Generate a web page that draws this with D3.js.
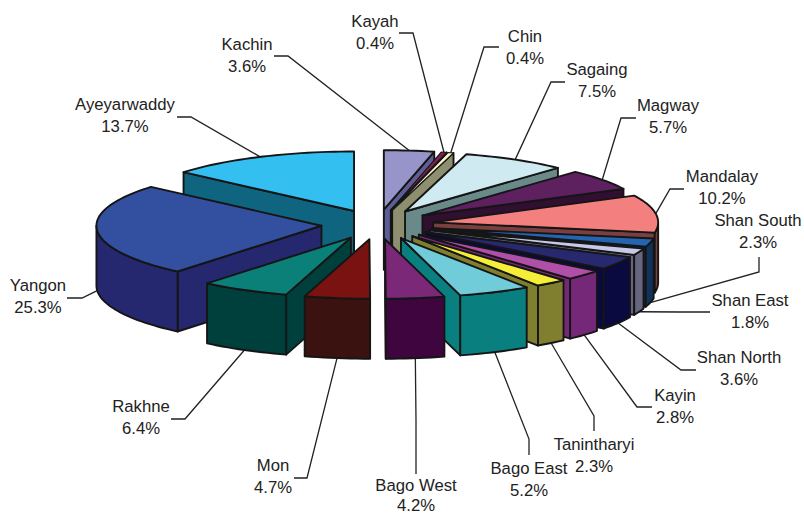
<!DOCTYPE html>
<html>
<head>
<meta charset="utf-8">
<script src="https://cdn.jsdelivr.net/npm/d3@7/dist/d3.min.js"></script>
<style>
html,body{margin:0;padding:0;background:#fff}
svg{display:block}
text{font-family:"Liberation Sans",Arial,sans-serif;font-size:16.7px;fill:#222;text-anchor:middle}
</style>
</head>
<body>
<svg id="chart" width="804" height="515"></svg>
<script>
// data
const regions = ["Kachin","Kayah","Chin","Sagaing","Magway","Mandalay","Shan South","Shan East","Shan North","Kayin","Tanintharyi","Bago East","Bago West","Mon","Rakhne","Yangon","Ayeyarwaddy"];
const shares = [3.6,0.4,0.4,7.5,5.7,10.2,2.3,1.8,3.6,2.8,2.3,5.2,4.2,4.7,6.4,25.3,13.7];

// styles
const topColors = ["#9694c8","#7f2052","#fbf8c8","#cfeaf0","#5f2060","#f47f7f","#2464b0","#c8c8e8","#28286f","#b04fa8","#f5ee38","#70ccd8","#7b2878","#7a1212","#0a8078","#3350a0","#33c0f0"];
const wallColors = ["#5e5e96","#40102a","#8e8e70","#6a8a8a","#300f30","#7a4040","#123259","#666680","#0a0a40","#762878","#807f30","#0a7f7f","#3f053f","#3a1210","#00403c","#26286f","#0f6480"];

// layout of labels: centre x, first baseline, elbow x/y, stub x/y
const labelLayout = [
 [247,50,288,56,274,56],[375,27,413,33,399,33],[525,42,484,47,499,47],[597,75,551,82,565,82],
 [668,111,621,118,636,118],[722,182,670,189,684,189],[758,226,759,272,759,257],[750,306,680,312,710,312],
 [739,363,681,370,696,370],[675,401,637,407,652,407],[594,450,594,416,594,431],[529,474,529,439,529,455],
 [416,491,416,420,416,474],[273,471,307,478,294,478],[141,412,185,419,171,419],[38,291,82,298,67,298],[125,110,191,117,177,117]
];

const cx = 377.5, cy = 224.5, rx = 225, ry = 59.5, explode = 0.25, depth = 60;
const svg = d3.select("#chart");
const pie = d3.pie().sort(null).value(d => d).startAngle(0).endAngle(2 * Math.PI);
const arcs = pie(shares).map((a, i) => {
  const mid = (a.startAngle + a.endAngle) / 2;
  return {i, a0: a.startAngle, a1: a.endAngle, mid,
    ax: cx + explode * rx * Math.sin(mid), ay: cy - explode * ry * Math.cos(mid)};
});
const pt = (s, t) => [s.ax + rx * Math.sin(t), s.ay - ry * Math.cos(t)];
const down = p => [p[0], p[1] + depth];
const line = d3.line();
const sample = (t0, t1) => d3.range(0, 1.0001, 1 / Math.max(2, Math.ceil((t1 - t0) / 0.03))).map(k => t0 + (t1 - t0) * k);

const leaders = svg.append("g").attr("fill", "none").attr("stroke", "#222").attr("stroke-width", 1.3);
arcs.forEach(s => {
  const L = labelLayout[s.i];
  let end = pt(s, s.mid);
  if (Math.cos(s.mid) < 0) end = down(end);
  leaders.append("path").attr("d", line([[L[4], L[5]], [L[2], L[3]], end]));
});

const g = svg.append("g").attr("stroke", "#151515").attr("stroke-width", 1.9).attr("stroke-linejoin", "round");
const order = arcs.slice().sort((p, q) => Math.cos(q.mid) - Math.cos(p.mid));
order.forEach(s => {
  const wall = wallColors[s.i], top = topColors[s.i];
  const apex = [s.ax, s.ay];
  const quad = t => { const p = pt(s, t); return line([apex, p, down(p), down(apex)]) + "Z"; };
  if (s.a0 > Math.PI + 1e-6) g.append("path").attr("d", quad(s.a0)).attr("fill", wall);
  if (s.a1 < Math.PI - 1e-6) g.append("path").attr("d", quad(s.a1)).attr("fill", wall);
  const f0 = Math.max(s.a0, Math.PI / 2), f1 = Math.min(s.a1, 3 * Math.PI / 2);
  if (f1 > f0) {
    const up = sample(f0, f1).map(t => pt(s, t));
    g.append("path").attr("d", line(up.concat(up.slice().reverse().map(down))) + "Z").attr("fill", wall);
  }
  const rim = sample(s.a0, s.a1).map(t => pt(s, t));
  g.append("path").attr("d", line([apex].concat(rim)) + "Z").attr("fill", top)
    .attr("stroke-width", shares[s.i] < 1 ? 1.1 : 1.9);
});

regions.forEach((name, i) => {
  const L = labelLayout[i];
  svg.append("text").attr("x", L[0]).attr("y", L[1]).text(name);
  svg.append("text").attr("x", L[0]).attr("y", Math.min(L[1] + 21.7, 511.3)).text(d3.format(".1f")(shares[i]) + "%");
});
</script>
</body>
</html>
